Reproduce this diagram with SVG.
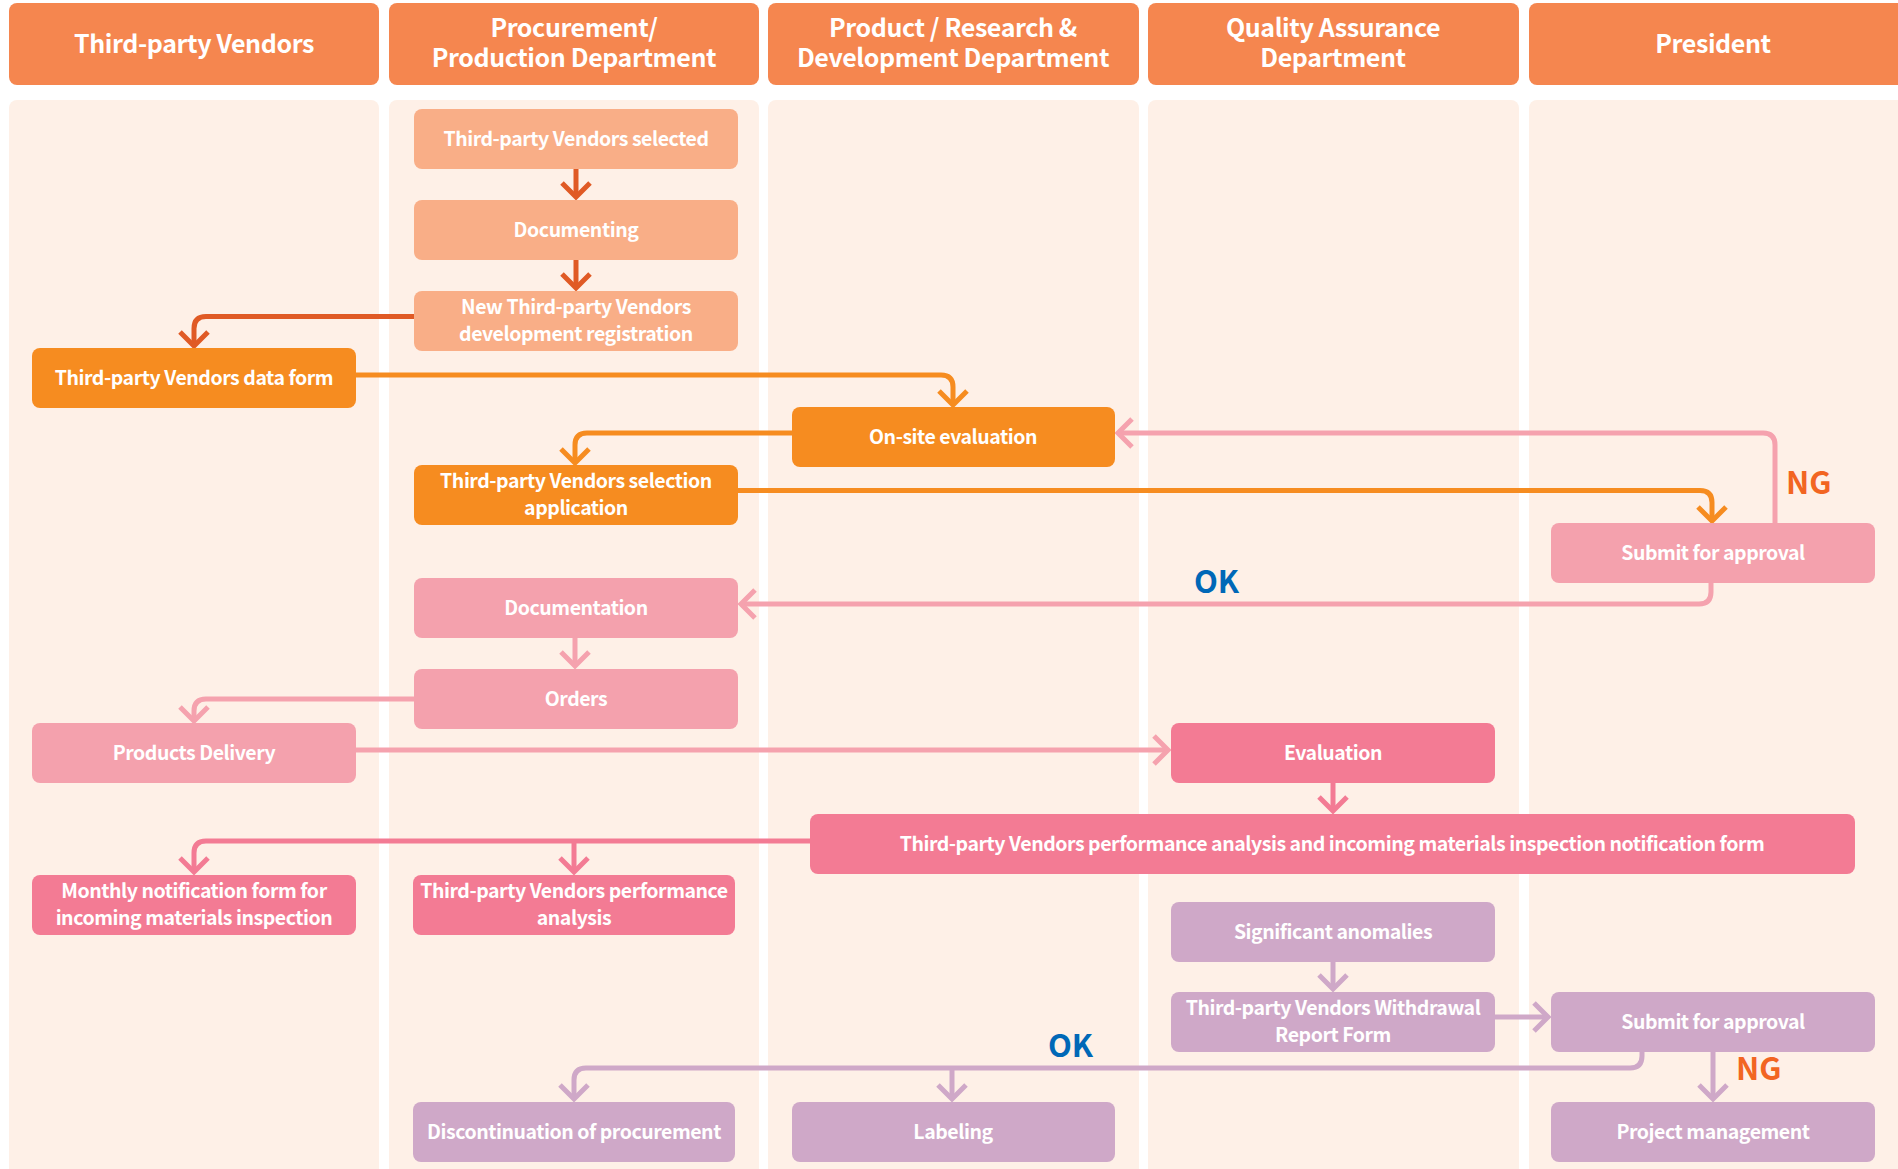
<svg xmlns="http://www.w3.org/2000/svg" width="1898" height="1169" viewBox="0 0 1898 1169">
<style>
.hdr{fill:#F5864F}
.lane{fill:#FEF0E7}
.ht{fill:#fff;font-family:"Noto Sans CJK TC","Noto Sans CJK SC",sans-serif;font-weight:700;font-size:25px;letter-spacing:-0.4px;text-anchor:middle}
.nt{fill:#fff;font-family:"Noto Sans CJK TC","Noto Sans CJK SC",sans-serif;font-weight:700;font-size:19.5px;letter-spacing:-0.45px;text-anchor:middle}
.lbl{font-family:"Noto Sans CJK TC","Noto Sans CJK SC",sans-serif;font-weight:700;font-size:31px}
.ok{fill:#0068B7}
.ng{fill:#F26522}
.salmon{fill:#F9AE87}
.orange{fill:#F68C20}
.pink{fill:#F4A1AD}
.dpink{fill:#F37B94}
.purple{fill:#CFA8C8}
.c{fill:none;stroke-width:5}
.c-do{stroke:#E05A25}
.c-or{stroke:#F68C20}
.c-pk{stroke:#F5A2AE}
.c-dp{stroke:#F37B94}
.c-pu{stroke:#CFA8C8}
</style>
<defs>
<marker id="a-do" viewBox="-20 -20 40 40" markerWidth="40" markerHeight="40" markerUnits="userSpaceOnUse" refX="0" refY="0" orient="auto"><path d="M-14,-14 L0,0 L-14,14" fill="none" stroke="#E05A25" stroke-width="5"/></marker>
<marker id="a-or" viewBox="-20 -20 40 40" markerWidth="40" markerHeight="40" markerUnits="userSpaceOnUse" refX="0" refY="0" orient="auto"><path d="M-14,-14 L0,0 L-14,14" fill="none" stroke="#F68C20" stroke-width="5"/></marker>
<marker id="a-pk" viewBox="-20 -20 40 40" markerWidth="40" markerHeight="40" markerUnits="userSpaceOnUse" refX="0" refY="0" orient="auto"><path d="M-14,-14 L0,0 L-14,14" fill="none" stroke="#F5A2AE" stroke-width="5"/></marker>
<marker id="a-dp" viewBox="-20 -20 40 40" markerWidth="40" markerHeight="40" markerUnits="userSpaceOnUse" refX="0" refY="0" orient="auto"><path d="M-14,-14 L0,0 L-14,14" fill="none" stroke="#F37B94" stroke-width="5"/></marker>
<marker id="a-pu" viewBox="-20 -20 40 40" markerWidth="40" markerHeight="40" markerUnits="userSpaceOnUse" refX="0" refY="0" orient="auto"><path d="M-14,-14 L0,0 L-14,14" fill="none" stroke="#CFA8C8" stroke-width="5"/></marker>
</defs>
<rect width="1898" height="1169" fill="#fff"/>
<g id="lanes">
<rect class="lane" x="9" y="100" width="370" height="1090" rx="8"/>
<rect class="lane" x="389" y="100" width="370" height="1090" rx="8"/>
<rect class="lane" x="768" y="100" width="371" height="1090" rx="8"/>
<rect class="lane" x="1148" y="100" width="371" height="1090" rx="8"/>
<rect class="lane" x="1529" y="100" width="380" height="1090" rx="8"/>
</g>
<g id="header-vendors"><rect class="hdr" x="9" y="3" width="370" height="82" rx="8"/><text class="ht" x="194" y="53">Third-party Vendors</text></g>
<g id="header-procurement"><rect class="hdr" x="389" y="3" width="370" height="82" rx="8"/><text class="ht" x="574" y="37">Procurement/</text><text class="ht" x="574" y="67">Production Department</text></g>
<g id="header-rd"><rect class="hdr" x="768" y="3" width="371" height="82" rx="8"/><text class="ht" x="953" y="37">Product / Research &amp;</text><text class="ht" x="953" y="67">Development Department</text></g>
<g id="header-qa"><rect class="hdr" x="1148" y="3" width="371" height="82" rx="8"/><text class="ht" x="1333" y="37">Quality Assurance</text><text class="ht" x="1333" y="67">Department</text></g>
<g id="header-president"><rect class="hdr" x="1529" y="3" width="380" height="82" rx="8"/><text class="ht" x="1713" y="53">President</text></g>

<g id="connectors">
<path class="c c-do" d="M576,169 V197" marker-end="url(#a-do)"/>
<path class="c c-do" d="M576,260 V288" marker-end="url(#a-do)"/>
<path class="c c-do" d="M414,316.5 H206 Q194,316.5 194,328.5 V346" marker-end="url(#a-do)"/>
<path class="c c-or" d="M356,375 H941 Q953,375 953,387 V405" marker-end="url(#a-or)"/>
<path class="c c-or" d="M792,433 H587 Q575,433 575,445 V463" marker-end="url(#a-or)"/>
<path class="c c-or" d="M738,490.5 H1700 Q1712,490.5 1712,502.5 V521" marker-end="url(#a-or)"/>
<path class="c c-pk" d="M1775,523 V445 Q1775,433 1763,433 H1118" marker-end="url(#a-pk)"/>
<path class="c c-pk" d="M1711,583 V592 Q1711,604 1699,604 H741" marker-end="url(#a-pk)"/>
<path class="c c-pk" d="M575,638 V666" marker-end="url(#a-pk)"/>
<path class="c c-pk" d="M414,699 H206 Q194,699 194,711 V721" marker-end="url(#a-pk)"/>
<path class="c c-pk" d="M356,750 H1168" marker-end="url(#a-pk)"/>
<path class="c c-dp" d="M1333,783 V811" marker-end="url(#a-dp)"/>
<path class="c c-dp" d="M810,841 H206 Q194,841 194,853 V872" marker-end="url(#a-dp)"/>
<path class="c c-dp" d="M574,841 V872" marker-end="url(#a-dp)"/>
<path class="c c-pu" d="M1333,962 V989" marker-end="url(#a-pu)"/>
<path class="c c-pu" d="M1495,1017 H1548" marker-end="url(#a-pu)"/>
<path class="c c-pu" d="M1642,1052 V1056 Q1642,1068 1630,1068 H586 Q574,1068 574,1080 V1099" marker-end="url(#a-pu)"/>
<path class="c c-pu" d="M952,1068 V1099" marker-end="url(#a-pu)"/>
<path class="c c-pu" d="M1713,1052 V1099" marker-end="url(#a-pu)"/>
</g>

<g id="n-selected"><rect class="salmon" x="414" y="109" width="324" height="60" rx="8"/><text class="nt" x="576" y="146">Third-party Vendors selected</text></g>
<g id="n-documenting"><rect class="salmon" x="414" y="200" width="324" height="60" rx="8"/><text class="nt" x="576" y="237">Documenting</text></g>
<g id="n-registration"><rect class="salmon" x="414" y="291" width="324" height="60" rx="8"/><text class="nt" x="576" y="314">New Third-party Vendors</text><text class="nt" x="576" y="341">development registration</text></g>
<g id="n-dataform"><rect class="orange" x="32" y="348" width="324" height="60" rx="8"/><text class="nt" x="194" y="385">Third-party Vendors data form</text></g>
<g id="n-onsite"><rect class="orange" x="792" y="407" width="323" height="60" rx="8"/><text class="nt" x="953" y="444">On-site evaluation</text></g>
<g id="n-selection-app"><rect class="orange" x="414" y="465" width="324" height="60" rx="8"/><text class="nt" x="576" y="488">Third-party Vendors selection</text><text class="nt" x="576" y="515">application</text></g>
<g id="n-submit1"><rect class="pink" x="1551" y="523" width="324" height="60" rx="8"/><text class="nt" x="1713" y="560">Submit for approval</text></g>
<g id="n-documentation"><rect class="pink" x="414" y="578" width="324" height="60" rx="8"/><text class="nt" x="576" y="615">Documentation</text></g>
<g id="n-orders"><rect class="pink" x="414" y="669" width="324" height="60" rx="8"/><text class="nt" x="576" y="706">Orders</text></g>
<g id="n-delivery"><rect class="pink" x="32" y="723" width="324" height="60" rx="8"/><text class="nt" x="194" y="760">Products Delivery</text></g>
<g id="n-evaluation"><rect class="dpink" x="1171" y="723" width="324" height="60" rx="8"/><text class="nt" x="1333" y="760">Evaluation</text></g>
<g id="n-bigform"><rect class="dpink" x="810" y="814" width="1045" height="60" rx="8"/><text class="nt" x="1332" y="851">Third-party Vendors performance analysis and incoming materials inspection notification form</text></g>
<g id="n-monthly"><rect class="dpink" x="32" y="875" width="324" height="60" rx="8"/><text class="nt" x="194" y="898">Monthly notification form for</text><text class="nt" x="194" y="925">incoming materials inspection</text></g>
<g id="n-performance"><rect class="dpink" x="413" y="875" width="322" height="60" rx="8"/><text class="nt" x="574" y="898">Third-party Vendors performance</text><text class="nt" x="574" y="925">analysis</text></g>
<g id="n-anomalies"><rect class="purple" x="1171" y="902" width="324" height="60" rx="8"/><text class="nt" x="1333" y="939">Significant anomalies</text></g>
<g id="n-withdrawal"><rect class="purple" x="1171" y="992" width="324" height="60" rx="8"/><text class="nt" x="1333" y="1015">Third-party Vendors Withdrawal</text><text class="nt" x="1333" y="1042">Report Form</text></g>
<g id="n-submit2"><rect class="purple" x="1551" y="992" width="324" height="60" rx="8"/><text class="nt" x="1713" y="1029">Submit for approval</text></g>
<g id="n-discontinuation"><rect class="purple" x="413" y="1102" width="322" height="60" rx="8"/><text class="nt" x="574" y="1139">Discontinuation of procurement</text></g>
<g id="n-labeling"><rect class="purple" x="792" y="1102" width="323" height="60" rx="8"/><text class="nt" x="953" y="1139">Labeling</text></g>
<g id="n-project"><rect class="purple" x="1551" y="1102" width="324" height="60" rx="8"/><text class="nt" x="1713" y="1139">Project management</text></g>

<g id="labels">
<text class="lbl ng" x="1786" y="494">NG</text>
<text class="lbl ok" x="1194" y="593">OK</text>
<text class="lbl ok" x="1048" y="1057">OK</text>
<text class="lbl ng" x="1736" y="1080">NG</text>
</g>
</svg>
